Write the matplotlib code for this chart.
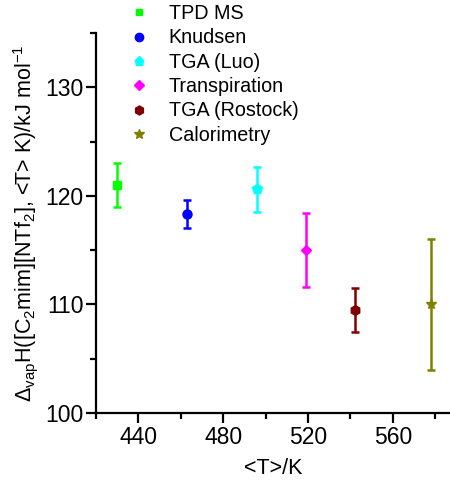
import matplotlib.pyplot as plt
from matplotlib.lines import Line2D
from matplotlib.ticker import MultipleLocator

plt.rcParams['font.family'] = ['Liberation Sans', 'DejaVu Sans']
plt.rcParams['mathtext.fontset'] = 'custom'
plt.rcParams['mathtext.rm'] = 'Liberation Sans'
plt.rcParams['mathtext.it'] = 'Liberation Sans:italic'
plt.rcParams['mathtext.bf'] = 'Liberation Sans:bold'

# methods, mean temperature, enthalpy and uncertainty
methods = ['TPD MS', 'Knudsen', 'TGA (Luo)', 'Transpiration', 'TGA (Rostock)', 'Calorimetry']
temps = [430, 463, 496, 519, 542, 578]
dh_vap = [121.0, 118.3, 120.6, 115.0, 109.5, 110.0]
dh_err = [2.0, 1.3, 2.1, 3.4, 2.0, 6.0]
colors = ['#00ff00', '#0000ff', '#00ffff', '#ff00ff', '#800000', '#808000']
markers = ['s', 'o', 'p', 'D', 'h', '*']
msizes = [5.5, 6.5, 7, 5.5, 7, 8]

fig = plt.figure(figsize=(4.5, 4.83), dpi=100)
ax = fig.add_axes([0.2133, 0.1449, 0.7867, 0.7868])

handles = []
for t, h, e, c, m, s, lab in zip(temps, dh_vap, dh_err, colors, markers, msizes, methods):
    ax.errorbar(t, h, yerr=e, fmt=m, color=c, ms=s, mec=c, elinewidth=1.8,
                capsize=3, capthick=1.8, clip_on=False)
    handles.append(Line2D([], [], ls='none', marker=m, color=c, ms=s - 0.5, label=lab))

ax.set_xlim(420, 587)
ax.set_ylim(100, 135)
ax.xaxis.set_major_locator(MultipleLocator(40))
ax.xaxis.set_minor_locator(MultipleLocator(20))
ax.yaxis.set_major_locator(MultipleLocator(10))
ax.yaxis.set_minor_locator(MultipleLocator(5))
ax.set_xticks([440, 480, 520, 560])

for side in ['top', 'right']:
    ax.spines[side].set_visible(False)
for side in ['left', 'bottom']:
    ax.spines[side].set_linewidth(1.6)
ax.tick_params(which='major', direction='out', length=7, width=1.6, labelsize=16.5, pad=2)
ax.tick_params(which='minor', direction='out', length=4, width=1.6)

ax.set_xlabel('<T>/K', fontsize=15.5, labelpad=7)
ax.set_ylabel(r'$\Delta_{\rm vap}$H([C$_2$mim][NTf$_2$], <T> K)/kJ mol$^{-1}$',
              fontsize=15.5, labelpad=4)

fig.legend(handles=handles, loc='upper left', bbox_to_anchor=(0.254, 1.02),
           frameon=False, fontsize=14.2, handlelength=1.1, handletextpad=0.95,
           labelspacing=0.27, borderpad=0.2)

fig.savefig('out.png', dpi=100)
